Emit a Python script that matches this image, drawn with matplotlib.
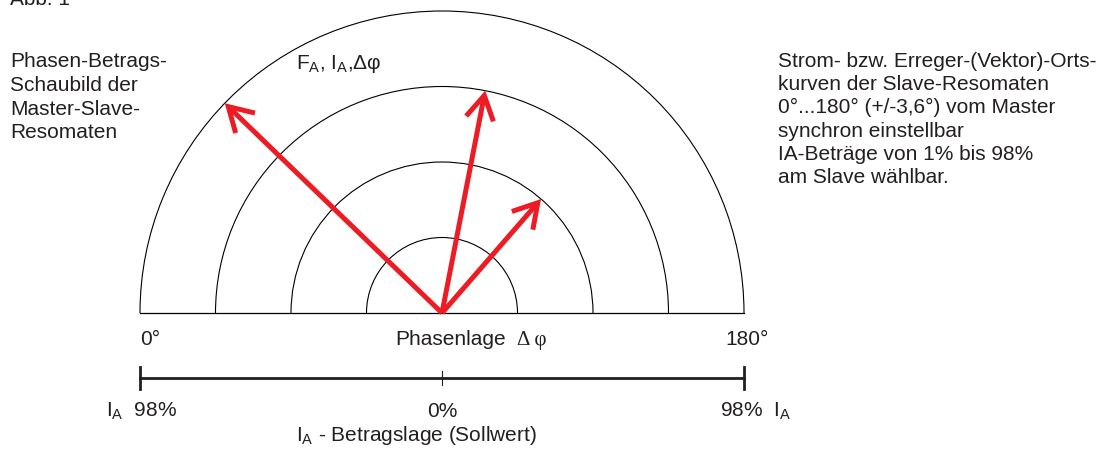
import numpy as np
import matplotlib
matplotlib.use("Agg")
import matplotlib.pyplot as plt
from matplotlib.patches import Arc, FancyArrowPatch

# --- Daten ---
ring_radii = [25, 50, 75, 100]          # Betrag in % des Außenkreises
vec_phase = [44, 101, 131]              # Phasenlage Δφ in Grad (0° links, 180° rechts)
vec_amp = [100, 75, 50]                 # Betrag I_A in %
scale_ticks = [-100, 0, 100]            # Betragslage-Skala (Enden = 98%)
scale_labels = ["98%", "0%", "98%"]

W, H = 1107, 449
TXT = "#231f20"
RED = "#ed1c24"
FS = 15

plt.rcParams["font.family"] = ["Liberation Sans", "DejaVu Sans"]
plt.rcParams["mathtext.fontset"] = "custom"
plt.rcParams["mathtext.rm"] = "Liberation Sans"

fig = plt.figure(figsize=(W / 100, H / 100), dpi=100)
ax = fig.add_axes([0, 0, 1, 1])
# Pixel-Mapping: Mittelpunkt bei (442, 313), Außenradius 302 px
u = 302 / 100.0
cx, cy = 442, 313
ax.set_xlim(-cx / u, (W - cx) / u)
ax.set_ylim(-(H - cy) / u, cy / u)
ax.set_aspect("equal")
ax.axis("off")

# Halbkreise
for r in ring_radii:
    ax.add_patch(Arc((0, 0), 2 * r, 2 * r, theta1=0, theta2=180,
                     color="black", lw=0.8))
ax.plot([-ring_radii[-1], ring_radii[-1]], [0, 0], color="black", lw=0.9)

# Vektoren (Phase von links gezählt)
for ph, a in zip(vec_phase, vec_amp):
    t = np.deg2rad(180 - ph)
    arr = FancyArrowPatch((0, 0), (a * np.cos(t), a * np.sin(t)),
                          arrowstyle="->,head_length=1.7,head_width=1.0",
                          mutation_scale=10, color=RED, lw=3.6,
                          shrinkA=0, shrinkB=0, joinstyle="miter",
                          capstyle="butt", zorder=3)
    ax.add_patch(arr)

# Betragslage-Skala
ys = -65 / u
ax.plot([scale_ticks[0], scale_ticks[-1]], [ys, ys], color=TXT, lw=2.0)
for x in scale_ticks:
    h = 11 / u if x != 0 else 7 / u
    w = 2.0 if x != 0 else 0.8
    ax.plot([x, x], [ys - h, ys + h], color=TXT, lw=w)


def ftext(x, y, s, **kw):
    kw.setdefault("fontsize", FS)
    kw.setdefault("color", TXT)
    fig.text(x / W, 1 - y / H, s, **kw)


ftext(10, 5, "Abb. 1", va="baseline")
ftext(10, 52, "Phasen-Betrags-\nSchaubild der\nMaster-Slave-\nResomaten",
      va="top", linespacing=1.32)
ftext(778, 52, "Strom- bzw. Erreger-(Vektor)-Orts-\nkurven der Slave-Resomaten\n"
      "0°...180° (+/-3,6°) vom Master\nsynchron einstellbar\n"
      "IA-Beträge von 1% bis 98%\nam Slave wählbar.",
      va="top", linespacing=1.28)
ftext(296, 69, r"$\mathregular{F_{A}}$, $\mathregular{I_{A}}$,Δφ", va="baseline")

ftext(140, 345, "0°", va="baseline")
ftext(395, 345, "Phasenlage", va="baseline")
ftext(517, 345, "Δ φ", va="baseline", family=["Liberation Serif", "DejaVu Serif"])
ftext(725, 345, "180°", va="baseline")

ftext(106, 417, r"$\mathregular{I_{A}}$  " + scale_labels[0], va="baseline")
ftext(442, 417, scale_labels[1], va="baseline", ha="center")
ftext(720, 417, scale_labels[2] + r"  $\mathregular{I_{A}}$", va="baseline")
ftext(296, 441, r"$\mathregular{I_{A}}$ - Betragslage (Sollwert)", va="baseline")

fig.savefig("out.png", dpi=100)
